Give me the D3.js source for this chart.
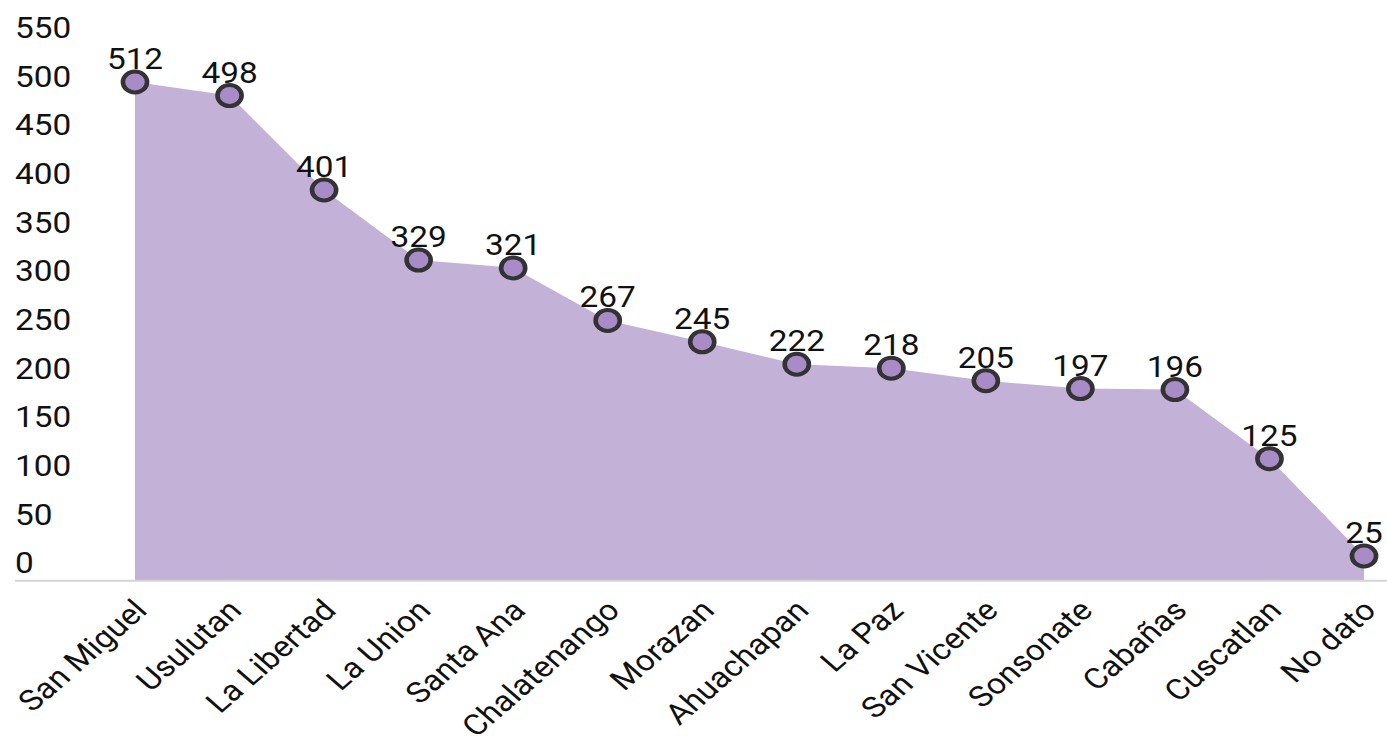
<meta charset="utf-8">
<style>
body { margin: 0; background: #fff; }
text { font-family: Roboto, "Noto Sans", sans-serif; fill: #111; }
</style>
<body>
<script src="https://cdn.jsdelivr.net/npm/d3@7"></script>
<script>
var categories = ["San Miguel", "Usulutan", "La Libertad", "La Union", "Santa Ana", "Chalatenango",
  "Morazan", "Ahuachapan", "La Paz", "San Vicente", "Sonsonate", "Cabañas", "Cuscatlan", "No dato"];
var values = [512, 498, 401, 329, 321, 267, 245, 222, 218, 205, 197, 196, 125, 25];
var yTicks = [0, 50, 100, 150, 200, 250, 300, 350, 400, 450, 500, 550];

// the picture is stretched a bit sideways, so draw in narrower units and let the viewBox widen it
var width = 1387, height = 741, stretch = 1.15;
var innerW = width / stretch;

var svg = d3.select("body").append("svg")
    .attr("width", width)
    .attr("height", height)
    .attr("viewBox", "0 0 " + innerW + " " + height)
    .attr("preserveAspectRatio", "none");

var x = d3.scalePoint()
    .domain(categories)
    .range([117.4, 1186.1]);

var y = d3.scaleLinear()
    .domain([0, 550])
    .range([580.3, 45]);

var data = categories.map(function(c, i) { return {cat: c, val: values[i]}; });

// area
var area = d3.area()
    .x(function(d) { return x(d.cat); })
    .y0(y(0))
    .y1(function(d) { return y(d.val); });

svg.append("path")
    .datum(data)
    .attr("d", area)
    .attr("fill", "#c3b1d7");

// baseline
svg.append("line")
    .attr("x1", 13).attr("x2", innerW)
    .attr("y1", y(0) + 0.5).attr("y2", y(0) + 0.5)
    .attr("stroke", "#d4d4d4")
    .attr("stroke-width", 2);

// y labels (sit above their value)
svg.selectAll(".ylab")
    .data(yTicks)
  .enter().append("text")
    .attr("class", "ylab")
    .attr("x", 13)
    .attr("y", function(d) { return y(d) - 7; })
    .style("font-size", "29px")
    .text(function(d) { return d; });

// x labels
svg.selectAll(".xlab")
    .data(categories)
  .enter().append("text")
    .attr("class", "xlab")
    .attr("transform", function(d) { return "translate(" + (x(d) + 12) + ",612) rotate(-45)"; })
    .attr("text-anchor", "end")
    .style("font-size", "29px")
    .text(function(d) { return d; });

// points
svg.selectAll(".dot")
    .data(data)
  .enter().append("circle")
    .attr("class", "dot")
    .attr("cx", function(d) { return x(d.cat); })
    .attr("cy", function(d) { return y(d.val); })
    .attr("r", 10.5)
    .attr("fill", "#a98bc7")
    .attr("stroke", "#333")
    .attr("stroke-width", 4);

// value labels
svg.selectAll(".vlab")
    .data(data)
  .enter().append("text")
    .attr("class", "vlab")
    .attr("x", function(d) { return x(d.cat); })
    .attr("y", function(d) { return y(d.val) - 13; })
    .attr("text-anchor", "middle")
    .style("font-size", "29px")
    .text(function(d) { return d.val; });
</script>
</body>
